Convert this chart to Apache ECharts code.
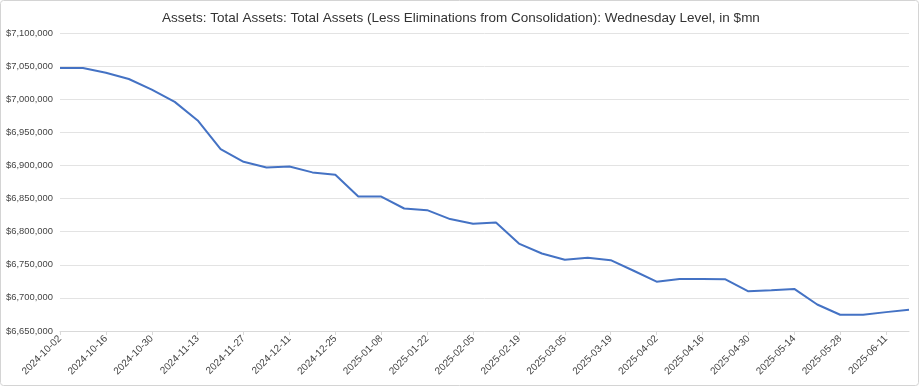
<!DOCTYPE html>
<html>
<head>
<meta charset="utf-8">
<script src="https://cdn.jsdelivr.net/npm/echarts@6/dist/echarts.min.js"></script>
<style>
html,body{margin:0;padding:0;background:#fff;}
#chart{width:922px;height:387px;}
</style>
</head>
<body>
<div id="chart"></div>
<script>
const titleText = 'Assets: Total Assets: Total Assets (Less Eliminations from Consolidation): Wednesday Level, in $mn';
const dates = ['2024-10-02','2024-10-09','2024-10-16','2024-10-23','2024-10-30','2024-11-06','2024-11-13','2024-11-20','2024-11-27','2024-12-04','2024-12-11','2024-12-18','2024-12-25','2025-01-01','2025-01-08','2025-01-15','2025-01-22','2025-01-29','2025-02-05','2025-02-12','2025-02-19','2025-02-26','2025-03-05','2025-03-12','2025-03-19','2025-03-26','2025-04-02','2025-04-09','2025-04-16','2025-04-23','2025-04-30','2025-05-07','2025-05-14','2025-05-21','2025-05-28','2025-06-04','2025-06-11','2025-06-18'];
const totalAssets = [7047000,7047000,7040000,7030500,7014500,6996000,6968000,6924500,6905500,6897000,6898500,6889500,6886000,6853000,6853000,6835000,6832500,6819000,6812000,6814000,6782000,6767000,6757500,6760500,6757000,6741000,6724500,6728500,6728500,6728000,6710000,6711500,6713500,6690000,6674500,6674500,6678500,6682000];
const yMin = 6650000, yMax = 7100000, yStep = 50000;

const chart = echarts.init(document.getElementById('chart'));
chart.setOption({
  animation: false,
  backgroundColor: '#fff',
  title: {
    text: titleText,
    left: 'center',
    top: 6,
    textStyle: {fontFamily: 'Liberation Sans, Arial, sans-serif', fontSize: 13.5, fontWeight: 'normal', color: '#333'}
  },
  graphic: [{
    type: 'rect', silent: true,
    shape: {x: 0.5, y: 0.5, width: 918, height: 385, r: 3},
    style: {fill: 'none', stroke: '#d4d4d4', lineWidth: 1}
  }],
  grid: {left: 60, right: 13, top: 33, bottom: 56, containLabel: false},
  xAxis: {
    type: 'category',
    data: dates,
    boundaryGap: false,
    axisLine: {lineStyle: {color: '#d9d9d9'}},
    axisTick: {show: true, interval: 1, length: 4, lineStyle: {color: '#d9d9d9'}},
    axisLabel: {interval: 1, rotate: 45, fontSize: 10, color: '#444', margin: 6, fontFamily: 'Liberation Sans, Arial, sans-serif'},
    splitLine: {show: false}
  },
  yAxis: {
    type: 'value',
    min: yMin, max: yMax, interval: yStep,
    axisLine: {show: false},
    axisTick: {show: false},
    axisLabel: {
      fontSize: 9.4, color: '#444', margin: 7, fontFamily: 'Liberation Sans, Arial, sans-serif',
      formatter: v => '$' + v.toLocaleString('en-US')
    },
    splitLine: {lineStyle: {color: '#e3e3e3', width: 1}}
  },
  series: [{
    type: 'line',
    data: totalAssets,
    showSymbol: false,
    lineStyle: {color: '#4472c4', width: 2},
    itemStyle: {color: '#4472c4'}
  }]
});
</script>
</body>
</html>
